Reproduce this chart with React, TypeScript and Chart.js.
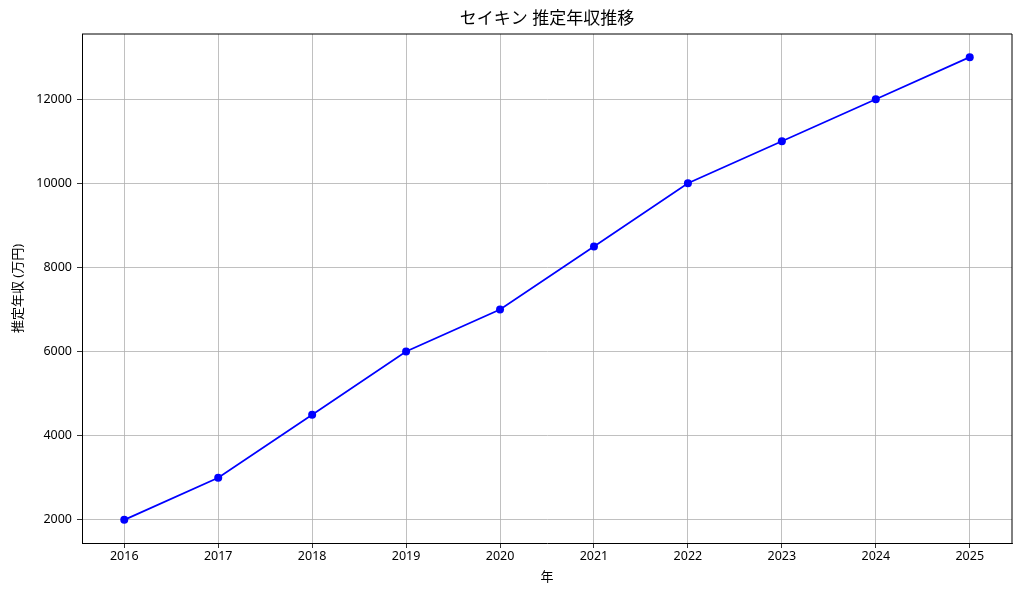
import React, { useEffect, useRef } from "react";
import { Chart, registerables } from "chart.js";

Chart.register(...registerables);

const years = [2016, 2017, 2018, 2019, 2020, 2021, 2022, 2023, 2024, 2025];
const income = [2000, 3000, 4500, 6000, 7000, 8500, 10000, 11000, 12000, 13000];
const yTicks = [2000, 4000, 6000, 8000, 10000, 12000];
const titleText = "セイキン 推定年収推移";
const xLabel = "年";
const yLabel = "推定年収 (万円)";

const FONT = "'Noto Sans', 'Noto Sans CJK JP', sans-serif";

export default function App() {
  const ref = useRef<HTMLCanvasElement>(null);
  useEffect(() => {
    document.body.style.margin = "0";
    const framePlugin = {
      id: "frame",
      afterDraw(chart: any) {
        const { ctx, chartArea } = chart;
        ctx.save();
        ctx.strokeStyle = "#000";
        ctx.lineWidth = 1;
        ctx.beginPath();
        ctx.moveTo(chartArea.left, chartArea.top);
        ctx.lineTo(chartArea.right, chartArea.top);
        ctx.lineTo(chartArea.right, chartArea.bottom);
        ctx.stroke();
        ctx.fillStyle = "#000";
        ctx.font = `17px ${FONT}`;
        ctx.textAlign = "center";
        ctx.textBaseline = "middle";
        ctx.fillText(titleText, (chartArea.left + chartArea.right) / 2, 19);
        ctx.restore();
      },
    };
    const chart = new Chart(ref.current!, {
      type: "line",
      data: {
        datasets: [
          {
            data: years.map((y, i) => ({ x: y, y: income[i] })),
            borderColor: "#0000ff",
            backgroundColor: "#0000ff",
            borderWidth: 1.7,
            pointRadius: 4,
            pointBorderWidth: 0,
            tension: 0,
          },
        ],
      },
      options: {
        animation: false,
        responsive: false,
        layout: { padding: { top: 34, right: 12, left: 0, bottom: 0 } },
        plugins: { legend: { display: false }, tooltip: { enabled: false } },
        scales: {
          x: {
            type: "linear",
            min: 2015.55,
            max: 2025.45,
            afterBuildTicks: (s: any) => {
              s.ticks = years.map((v) => ({ value: v }));
            },
            afterFit: (s: any) => {
              s.height = 54;
            },
            ticks: {
              color: "#000",
              font: { family: FONT, size: 12.5 },
              padding: 1,
              callback: (v: any) => String(v),
              maxRotation: 0,
            },
            grid: { color: "#b0b0b0", lineWidth: 0.8, tickLength: 5, tickColor: "#000" },
            border: { display: true, color: "#000", width: 1 },
            title: {
              display: true,
              text: xLabel,
              color: "#000",
              font: { family: FONT, size: 13 },
              padding: { top: 4, bottom: 12 },
            },
          },
          y: {
            type: "linear",
            min: 1450,
            max: 13550,
            afterBuildTicks: (s: any) => {
              s.ticks = yTicks.map((v) => ({ value: v }));
            },
            afterFit: (s: any) => {
              s.width = 82;
            },
            ticks: {
              color: "#000",
              font: { family: FONT, size: 12.5 },
              padding: 5,
              callback: (v: any) => String(v),
            },
            grid: { color: "#b0b0b0", lineWidth: 0.8, tickLength: 5, tickColor: "#000" },
            border: { display: true, color: "#000", width: 1 },
            title: {
              display: true,
              text: yLabel,
              color: "#000",
              font: { family: FONT, size: 13 },
              padding: { top: 10, bottom: 0 },
            },
          },
        },
      },
      plugins: [framePlugin],
    } as any);
    return () => chart.destroy();
  }, []);
  return <canvas ref={ref} width={1024} height={597} style={{ display: "block" }} />;
}
